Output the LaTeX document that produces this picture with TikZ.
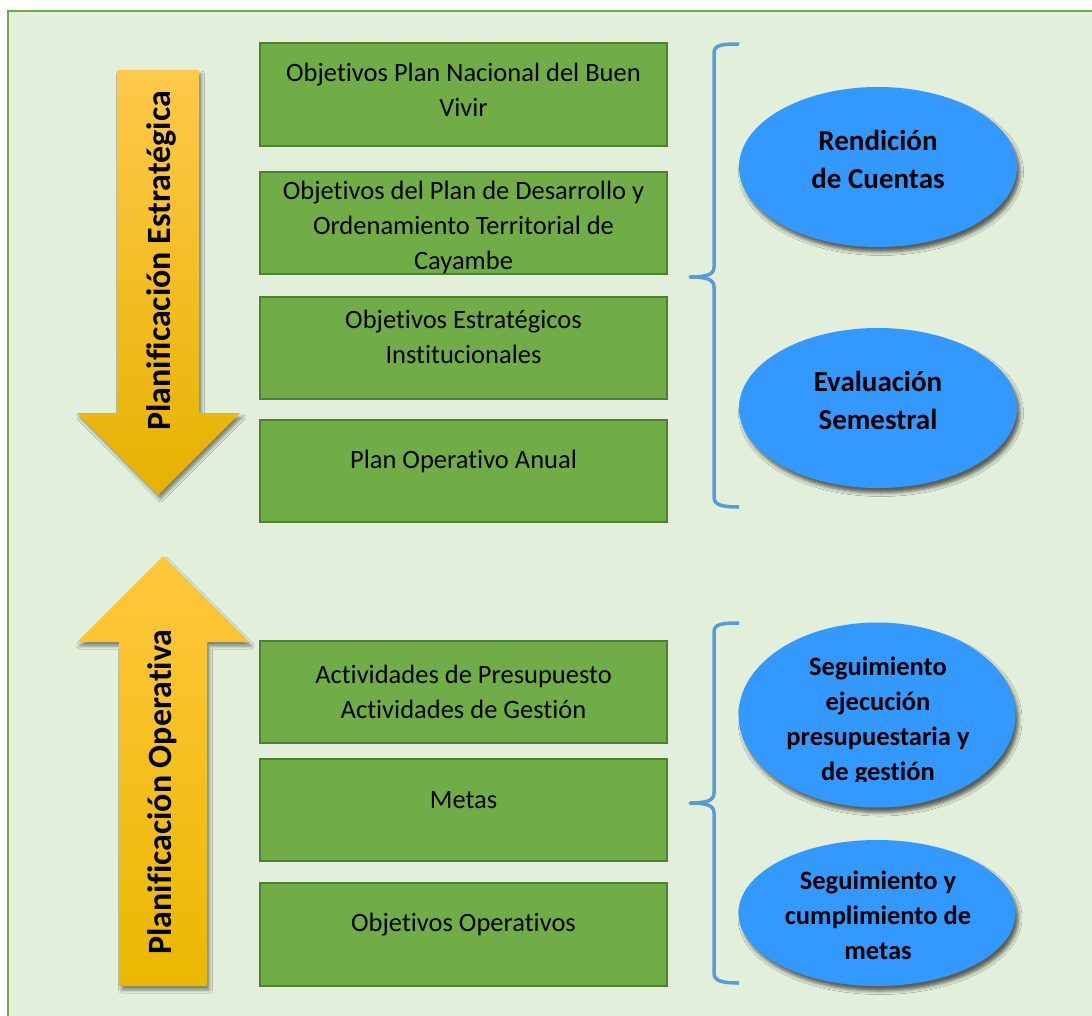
\documentclass[tikz,border=0pt]{standalone}
\usepackage{fontspec}
\setmainfont{Carlito}[Ligatures={NoCommon,NoContextual},Contextuals=NoAlternate]
\usetikzlibrary{shapes.geometric,shadows.blur}
\definecolor{bgc}{HTML}{E2EFDA}
\definecolor{framec}{HTML}{70AD47}
\definecolor{boxc}{HTML}{70AD47}
\definecolor{boxb}{HTML}{507E32}
\definecolor{ellc}{HTML}{3399FF}
\definecolor{bracec}{HTML}{5B9BD5}
\definecolor{atop}{HTML}{FFC94A}
\definecolor{amid}{HTML}{FFC60A}
\definecolor{abot}{HTML}{E6B200}
\definecolor{utop}{HTML}{FFC83D}
\definecolor{umid}{HTML}{FFC614}
\definecolor{ubot}{HTML}{EBB700}
\begin{document}
\begin{tikzpicture}[x=1pt,y=-1pt,
  gbox/.style={rectangle,draw=boxb,fill=boxc,line width=1.8pt,minimum width=407pt,minimum height=102pt,inner sep=0pt},
  btext/.style={align=center,text=black,font=\fontsize{26.5}{35}\selectfont},
  etext/.style={align=center,text=black,font=\bfseries\fontsize{26.5}{35}\selectfont},
  ebig/.style={align=center,text=black,font=\bfseries\fontsize{29}{38}\selectfont},
  vtext/.style={rotate=90,text=black,font=\bfseries\fontsize{34}{40}\selectfont},
  eshape/.style={ellipse,fill=ellc,inner sep=0pt,
    blur shadow={shadow xshift=3pt,shadow yshift=-5pt,shadow blur radius=3.5pt,shadow opacity=60}},
  ashadow/.style={blur shadow={shadow xshift=2.5pt,shadow yshift=-4pt,shadow blur radius=3pt,shadow opacity=45}},
  bracestyle/.style={draw=bracec,line width=3.5pt,line join=round}]
\useasboundingbox (0,0) rectangle (1092,1016);
\clip (0,0) rectangle (1092,1016);
\fill[white] (0,0) rectangle (1092,1016);
\draw[draw=framec,fill=bgc,line width=2pt] (8,11) rectangle (1110,1040);

% arrows
\shade[ashadow,top color=atop,middle color=amid,bottom color=abot]
  (117,70) -- (199,70) -- (199,413) -- (240,413) -- (158,495) -- (77,413) -- (117,413) -- cycle;
\shade[ashadow,top color=utop,middle color=umid,bottom color=ubot]
  (163,556) -- (249,642) -- (207,642) -- (207,986) -- (119,986) -- (119,642) -- (77,642) -- cycle;
\node[vtext] (pe) at (161,261) {Planificación Estratégica};
\node[vtext] (po) at (162,792) {Planificación Operativa};

% green boxes
\node[gbox,minimum height=103pt] (b1) at (463.5,94.5) {};
\node[gbox] (b2) at (463.5,223) {};
\node[gbox] (b3) at (463.5,348) {};
\node[gbox] (b4) at (463.5,471) {};
\node[gbox] (b5) at (463.5,692) {};
\node[gbox] (b6) at (463.5,810) {};
\node[gbox,minimum height=103pt] (b7) at (463.5,934.5) {};

\node[btext] (t1) at (463.5,90) {Objetivos Plan Nacional del Buen\\Vivir};
\node[btext] (t2) at (463.5,227) {Objetivos del Plan de Desarrollo y\\Ordenamiento Territorial de\\Cayambe};
\node[btext] (t3) at (463.5,337) {Objetivos Estratégicos\\Institucionales};
\node[btext] (t4) at (463.5,461) {Plan Operativo Anual};
\node[btext] (t5) at (463.5,692) {Actividades de Presupuesto\\Actividades de Gestión};
\node[btext] (t6) at (463.5,800) {Metas};
\node[btext] (t7) at (463.5,925) {Objetivos Operativos};

% braces
\coordinate (ua) at (739,44);
\coordinate (ut) at (690,277);
\coordinate (ub) at (739,507);
\coordinate (la) at (739,623);
\coordinate (lt) at (690,803);
\coordinate (lb) at (739,983);
\draw[bracestyle] (ua) .. controls (722,44) and (714,45) .. (714,53) -- (714,267)
  .. controls (714,274) and (708,277) .. (ut)
  .. controls (708,277) and (714,280) .. (714,287) -- (714,497)
  .. controls (714,505) and (722,507) .. (ub);
\draw[bracestyle] (la) .. controls (722,623) and (714,624) .. (714,632) -- (714,793)
  .. controls (714,800) and (708,803) .. (lt)
  .. controls (708,803) and (714,806) .. (714,813) -- (714,973)
  .. controls (714,981) and (722,983) .. (lb);

% ellipses
\node[eshape,minimum width=278pt,minimum height=160pt] (e1) at (878,167) {};
\node[eshape,minimum width=278pt,minimum height=160pt] (e2) at (878,408) {};
\node[eshape,minimum width=277pt,minimum height=185pt] (e3) at (877,715) {};
\node[eshape,minimum width=277pt,minimum height=146pt] (e4) at (877,913) {};

\node[ebig] (x1) at (878,159) {Rendición\\de Cuentas};
\node[ebig] (x2) at (878,400) {Evaluación\\Semestral};
\begin{scope}
  \clip (739,600) rectangle (1017,781);
  \node[etext] (x3) at (878,720.5) {Seguimiento\\ejecución\\presupuestaria y\\de gestión};
\end{scope}
\node[etext] (x4) at (878,915) {Seguimiento y\\cumplimiento de\\metas};
\end{tikzpicture}
\end{document}
